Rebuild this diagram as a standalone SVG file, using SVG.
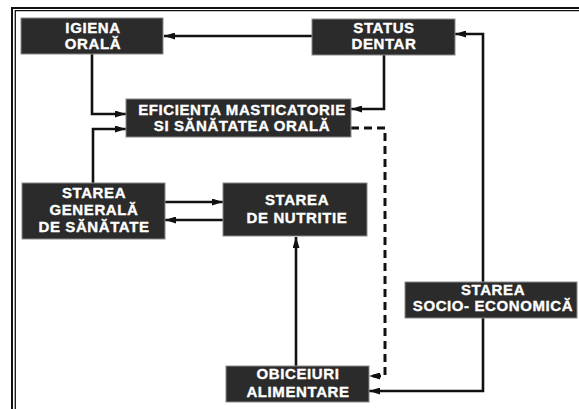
<svg xmlns="http://www.w3.org/2000/svg" width="579" height="409" viewBox="0 0 579 409">
<style>
.box{fill:#2b2b2b;stroke:#8a8a8a;stroke-width:1}
.t{fill:#ffffff;stroke:#ffffff;stroke-width:0.35;font-family:"Liberation Sans",Arial,sans-serif;font-weight:bold;font-size:15px;letter-spacing:0.6px;text-anchor:middle}
.c{fill:none;stroke:#111;stroke-width:2.6;marker-end:url(#ah)}
.d{stroke-dasharray:8 5;stroke-width:3}
.f{fill:none;stroke:#111}
</style>
<defs>
<marker id="ah" markerUnits="userSpaceOnUse" markerWidth="11" markerHeight="7" refX="11" refY="3.5" orient="auto">
<path d="M0,0 L11,3.5 L0,7 z" fill="#111"/>
</marker>
</defs>
<rect width="579" height="409" fill="#ffffff"/>
<g id="frame">
<path class="f" stroke-width="2" d="M12,409 V8 H579"/>
<path class="f" stroke-width="1.3" d="M15.3,409 V10.7 H579"/>
</g>
<g id="connectors">
<path class="c" d="M312,36 H164"/>
<path class="c" d="M92,54 V114 H126"/>
<path class="c" d="M93,183 V129 H126"/>
<path class="c" d="M384,55 V109 H351"/>
<path class="c d" d="M351,128 H385 V376 H369"/>
<path class="c" d="M483,282 V34 H455"/>
<path class="c" d="M483,318 V391 H369"/>
<path class="c" d="M165,202 H223"/>
<path class="c" d="M223,220 H165"/>
<path class="c" d="M296,366 V237"/>
</g>
<g id="igiena">
<rect class="box" x="21" y="18" width="142" height="36"/>
<text class="t" x="93" y="33">IGIENA</text>
<text class="t" x="93" y="49">ORALĂ</text>
</g>
<g id="status">
<rect class="box" x="312" y="19" width="143" height="36"/>
<text class="t" x="384" y="33">STATUS</text>
<text class="t" x="384" y="49">DENTAR</text>
</g>
<g id="eficienta">
<rect class="box" x="126" y="99" width="225" height="38"/>
<text class="t" x="242" y="115">EFICIENTA MASTICATORIE</text>
<text class="t" x="242" y="131">SI SĂNĂTATEA ORALĂ</text>
</g>
<g id="generala">
<rect class="box" x="22" y="183" width="143" height="56"/>
<text class="t" x="94" y="198">STAREA</text>
<text class="t" x="94" y="215">GENERALĂ</text>
<text class="t" x="94" y="232">DE SĂNĂTATE</text>
</g>
<g id="nutritie">
<rect class="box" x="223" y="183" width="144" height="53"/>
<text class="t" x="297" y="205">STAREA</text>
<text class="t" x="297" y="223">DE NUTRITIE</text>
</g>
<g id="obiceiuri">
<rect class="box" x="226" y="366" width="143" height="36"/>
<text class="t" x="298" y="379">OBICEIURI</text>
<text class="t" x="298" y="397">ALIMENTARE</text>
</g>
<g id="socio">
<rect class="box" x="405" y="282" width="172" height="36"/>
<text class="t" x="493" y="295">STAREA</text>
<text class="t" x="493" y="311">SOCIO- ECONOMICĂ</text>
</g>
</svg>
